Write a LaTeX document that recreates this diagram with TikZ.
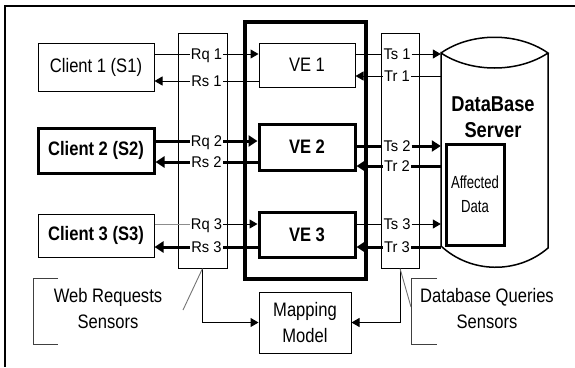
\documentclass[tikz,border=0pt]{standalone}
\usepackage{fontspec}
\setmainfont{Liberation Sans}[FakeStretch=0.85]
\newfontfamily\lblfont{Liberation Sans}[FakeStretch=0.95]
\newfontfamily\narrowfont{Liberation Sans}[FakeStretch=0.75]
\usetikzlibrary{arrows.meta}
\begin{document}
\begin{tikzpicture}[x=1pt,y=-1pt,
  box/.style={draw,line width=1pt,inner sep=0pt,align=center,font=\fontsize{19.5}{26}\selectfont},
  boldbox/.style={box,font=\fontsize{19.5}{26}\selectfont\bfseries},
  thickbox/.style={boldbox,line width=3pt},
  sensor/.style={draw,line width=1pt,inner sep=0pt,minimum height=235pt},
  lbl/.style={inner sep=1pt,font=\lblfont\fontsize{15.5}{18}\selectfont,text height=11pt,text depth=0pt},
  thinarr/.style={line width=1pt,-{Triangle[length=8pt,width=9pt]}},
  thickarr/.style={line width=3pt,-{Triangle[length=9pt,width=11pt]}},
  callout/.style={draw=black!55,line width=0.9pt},
  bracket/.style={draw=black!75,line width=1pt},
  note/.style={align=center,font=\fontsize{19.5}{26}\selectfont}]
  \useasboundingbox (0,0) rectangle (575,367);
  \draw[line width=1.5pt] (575,6) -- (5,6) -- (5,367);

  \node[box,minimum width=116pt,minimum height=48pt] (c1) at (96,67) {Client 1 (S1)};
  \node[thickbox,minimum width=116pt,minimum height=45pt] (c2) at (96,150.5) {Client 2 (S2)};
  \node[boldbox,minimum width=116pt,minimum height=43pt] (c3) at (96,235.5) {Client 3 (S3)};

  \node[sensor,minimum width=49pt] (ws) at (202.5,150.5) {};
  \node[draw,line width=3.5pt,minimum width=121pt,minimum height=257pt] (main) at (305.5,150.5) {};
  \node[box,minimum width=96pt,minimum height=44pt] (ve1) at (307,65) {VE 1};
  \node[thickbox,minimum width=96pt,minimum height=46pt] (ve2) at (307,147) {VE 2};
  \node[thickbox,minimum width=96pt,minimum height=45pt] (ve3) at (307,234.5) {VE 3};
  \node[sensor,minimum width=38pt] (ds) at (400,150.5) {};
  \node[box,minimum width=92pt,minimum height=61pt] (mm) at (305,322.5) {Mapping\\Model};

  \node[inner sep=0pt,minimum width=107pt,minimum height=194pt] (db) at (494.5,150) {};
  \draw[line width=1.5pt] (441,53) .. controls (471,32) and (518,32) .. (548,53)
    .. controls (518,73) and (471,73) .. (441,53) -- (441,246)
    .. controls (471,274) and (518,274) .. (548,248) -- (548,53);
  \node[align=center,font=\fontsize{21.5}{26}\selectfont\bfseries] (dbtxt) at (493,117.5) {DataBase\\Server};
  \node[draw,line width=3pt,minimum width=58pt,minimum height=101pt,align=center,
    font=\narrowfont\fontsize{17.5}{24}\selectfont] (ad) at (475,194.5) {Affected\\Data};

  \node[lbl] (rq1) at (206.5,54) {Rq 1};
  \node[lbl] (rs1) at (206.5,81) {Rs 1};
  \node[lbl] (rq2) at (206.5,141) {Rq 2};
  \node[lbl] (rs2) at (206.5,162) {Rs 2};
  \node[lbl] (rq3) at (206.5,224) {Rq 3};
  \node[lbl] (rs3) at (206.5,247) {Rs 3};
  \node[lbl] (ts1) at (397,54) {Ts 1};
  \node[lbl] (tr1) at (397,76) {Tr 1};
  \node[lbl] (ts2) at (397,146) {Ts 2};
  \node[lbl] (tr2) at (397,166) {Tr 2};
  \node[lbl] (ts3) at (397,224) {Ts 3};
  \node[lbl] (tr3) at (397,247) {Tr 3};

  \draw[thinarr] (c1.east |- rq1) -- (rq1) -- (ve1.west |- rq1);
  \draw[thinarr] (ve1.west |- rs1) -- (rs1) -- (c1.east |- rs1);
  \draw[thickarr] (c2.east |- rq2) -- (rq2) -- (ve2.west |- rq2);
  \draw[thickarr] (ve2.west |- rs2) -- (rs2) -- (c2.east |- rs2);
  \draw[line width=1pt,black!45] (c3.east |- rq3) -- (rq3);
  \draw[thinarr] (rq3) -- (ve3.west |- rq3);
  \draw[thickarr] (ve3.west |- rs3) -- (rs3) -- (c3.east |- rs3);

  \draw[thinarr] (ve1.east |- ts1) -- (ts1) -- (db.west |- ts1);
  \draw[thinarr] (db.west |- tr1) -- (tr1) -- (ve1.east |- tr1);
  \draw[thickarr] (ve2.east |- ts2) -- (ts2) -- (db.west |- ts2);
  \draw[thickarr] (db.west |- tr2) -- (tr2) -- (ve2.east |- tr2);
  \draw[thinarr] (ve3.east |- ts3) -- (ts3) -- (db.west |- ts3);
  \draw[thickarr] (db.west |- tr3) -- (tr3) -- (ve3.east |- tr3);

  \draw[thinarr] (ws.south) |- (mm.west);
  \draw[thinarr] (ds.south) |- (mm.east);

  \node[note] (wrs) at (108,309) {Web Requests\\Sensors};
  \node[note] (dqs) at (487,309) {Database Queries\\Sensors};
  \coordinate (wsend) at (183,310);
  \coordinate (dsend) at (411,307);
  \draw[callout] (ws.south) -- (wsend);
  \draw[callout] (ds.south) -- (dsend);
  \draw[bracket] (58,278) -- (33,278) -- (33,344) -- (58,344);
  \draw[bracket] (437,278) -- (411,278) -- (411,344) -- (437,344);
\end{tikzpicture}
\end{document}
